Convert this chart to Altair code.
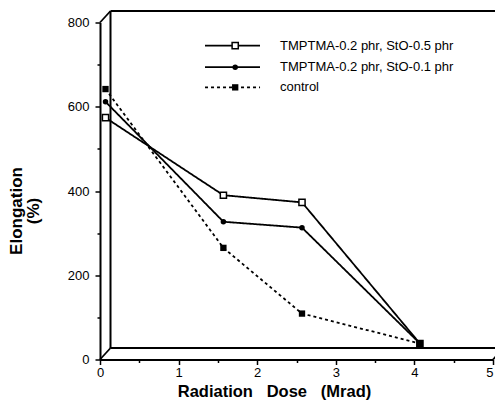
import altair as alt
import pandas as pd

# ---- data ----
dose = [0, 1.5, 2.5, 4.0]
sto05 = [574, 390, 373, 38]     # TMPTMA-0.2 phr, StO-0.5 phr (open square)
sto01 = [612, 327, 313, 38]     # TMPTMA-0.2 phr, StO-0.1 phr (filled circle)
control = [642, 265, 109, 38]   # control (filled square, dotted)

series_names = ["TMPTMA-0.2 phr, StO-0.5 phr", "TMPTMA-0.2 phr, StO-0.1 phr", "control"]
series_values = [sto05, sto01, control]

x_ticks = [0, 1, 2, 3, 4, 5]
x_minor = [0.5, 1.5, 2.5, 3.5, 4.5]
y_ticks = [0, 200, 400, 600, 800]
y_minor = [100, 300, 500, 700]

# ---- layout / style constants ----
W, H = 393, 337
DX, DY = 10.5, -11.5      # depth offset of the pseudo-3D box
PX = 5.5                  # data points sit between front and back walls
FONT = "Liberation Sans"
SP3 = "\u00a0\u00a0\u00a0"

styles = [
    dict(shape="square", filled=False, size=38, dash=[1, 0]),
    dict(shape="circle", filled=True, size=30, dash=[1, 0]),
    dict(shape="square", filled=True, size=40, dash=[3, 3]),
]

# legend placement in data units
LEG_X1, LEG_X2, LEG_XM, LEG_XT = 1.336, 2.036, 1.72, 2.29
LEG_Y = [745, 694, 646]

xscale = alt.Scale(domain=[0, 5], nice=False, zero=False)
yscale = alt.Scale(domain=[0, 800], nice=False, zero=False)

xaxis = alt.Axis(
    values=sorted(x_ticks + x_minor),
    labelExpr="datum.value % 1 === 0 ? format(datum.value, 'd') : ''",
    tickSize={"condition": {"test": "datum.value % 1 === 0", "value": 5}, "value": 3},
    domainColor="black", domainWidth=2, tickColor="black", tickWidth=1.5,
    labelFont=FONT, labelFontSize=13, labelColor="black", labelPadding=2,
    labelFlush=False,
    labelAlign={"condition": {"test": "datum.value === 5", "value": "right"}, "value": "center"},
    grid=False,
    title="Radiation" + SP3 + "Dose" + SP3 + "(Mrad)",
    titleFont=FONT, titleFontSize=16.5, titleFontWeight="bold", titleColor="black",
    titleX=174, titleY=32, titleAlign="center", titleBaseline="middle",
)
yaxis = alt.Axis(
    values=sorted(y_ticks + y_minor),
    labelExpr="datum.value % 200 === 0 ? format(datum.value, 'd') : ''",
    tickSize={"condition": {"test": "datum.value % 200 === 0", "value": 5}, "value": 3},
    domainColor="black", domainWidth=2, tickColor="black", tickWidth=1.5,
    labelFont=FONT, labelFontSize=13, labelColor="black", labelPadding=6,
    grid=False,
    title=["Elongation", "(%)"],
    titleFont=FONT, titleFontSize=17, titleFontWeight="bold", titleColor="black",
    titleLineHeight=17,
    titleX=-84, titleY=188, titleAngle=270, titleAlign="center", titleBaseline="middle",
)


def X(field):
    return alt.X(field, type="quantitative", scale=xscale, axis=xaxis)


def Y(field):
    return alt.Y(field, type="quantitative", scale=yscale, axis=yaxis)


# ---- pseudo-3D frame ----
back = pd.DataFrame({
    "x": [0, 0, 0, 5],
    "x2": [0, 5, 5, 5],
    "y": [0, 0, 800, 0],
    "y2": [800, 0, 800, 800],
})
diag = pd.DataFrame({"x": [0, 0, 5], "y": [800, 0, 0]})

back_layer = alt.Chart(back).mark_rule(
    color="black", strokeWidth=2, xOffset=DX, x2Offset=DX, yOffset=DY, y2Offset=DY
).encode(x=X("x"), x2="x2", y=Y("y"), y2="y2")

diag_layer = alt.Chart(diag).mark_rule(
    color="black", strokeWidth=1.8, x2Offset=DX, y2Offset=DY
).encode(x=X("x"), x2="x", y=Y("y"), y2="y")

layers = [back_layer, diag_layer]

for name, vals, st, ly in zip(series_names, series_values, styles, LEG_Y):
    df = pd.DataFrame({"dose": dose, "value": vals})
    line = alt.Chart(df).mark_line(
        color="black", strokeWidth=1.8, strokeDash=st["dash"], xOffset=PX
    ).encode(x=X("dose"), y=Y("value"))
    pts = alt.Chart(df).mark_point(
        shape=st["shape"], filled=st["filled"], size=st["size"],
        color="black", fill="black" if st["filled"] else "white",
        opacity=1, strokeWidth=1.5, xOffset=PX
    ).encode(x=X("dose"), y=Y("value"))

    leg = pd.DataFrame({"x1": [LEG_X1], "x2": [LEG_X2], "xm": [LEG_XM], "xt": [LEG_XT],
                        "y": [ly], "label": [name]})
    leg_line = alt.Chart(leg).mark_rule(
        color="black", strokeWidth=1.8, strokeDash=st["dash"]
    ).encode(x=X("x1"), x2="x2", y=Y("y"))
    leg_pt = alt.Chart(leg).mark_point(
        shape=st["shape"], filled=st["filled"], size=st["size"],
        color="black", fill="black" if st["filled"] else "white",
        opacity=1, strokeWidth=1.5
    ).encode(x=X("xm"), y=Y("y"))
    leg_txt = alt.Chart(leg).mark_text(
        align="left", baseline="middle", font=FONT, fontSize=13, color="black"
    ).encode(x=X("xt"), y=Y("y"), text="label:N")
    layers += [line, pts, leg_line, leg_pt, leg_txt]

chart = alt.layer(*layers).properties(
    width=W, height=H,
    autosize="none",
    padding={"left": 92, "top": 14.5, "right": 2, "bottom": 44},
).configure_view(stroke=None)

chart.save("out.html", embed_options={"renderer": "svg", "actions": False})
